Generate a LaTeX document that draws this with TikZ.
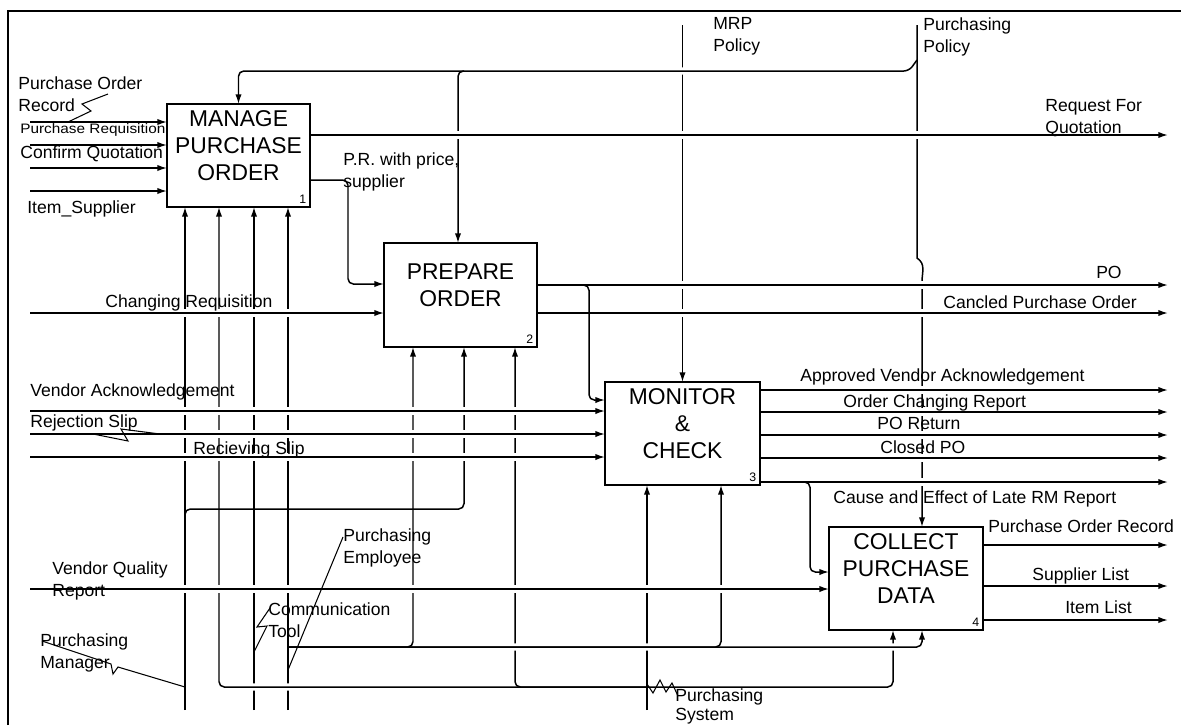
\documentclass[tikz,border=0pt]{standalone}
\usepackage{fontspec}
\setmainfont{Liberation Sans}
\usepackage{graphicx}
\usetikzlibrary{arrows.meta}

\tikzset{
  box/.style={draw, line width=1.5pt, inner sep=0pt, outer sep=0pt,
    minimum width=3.06cm, minimum height=2.06cm},
  boxtext/.style={font=\fontsize{13}{15.5}\selectfont, align=center, inner sep=0pt, yshift=5.7pt},
  num/.style={font=\fontsize{7}{8}\selectfont, inner sep=2pt, anchor=south east},
  lbl/.style={font=\fontsize{10}{12.5}\selectfont, inner sep=0pt, align=left},
  flow/.style={line width=0.85pt, -{Latex[length=5.5pt,width=3.6pt]}},
  hop/.style={preaction={draw=white, -, line width=4pt, shorten <=4pt, shorten >=4pt}},
  squig/.style={line width=0.6pt},
}

\begin{document}
\begin{tikzpicture}[x=0.02cm, y=-0.02cm]
  \useasboundingbox (0,0) rectangle (1181,725);

  % Frame
  \draw[line width=1pt] (8,725) -- (8,11) -- (1181,11);

  % Activity boxes
  \node[box, minimum width=2.86cm] (b1) at (238.5,155.5) {};
  \node[box, minimum height=2.08cm] (b2) at (460.5,295) {};
  \node[box, minimum width=3.1cm] (b3) at (682.5,433.5) {};
  \node[box, minimum width=3.08cm] (b4) at (906,578.5) {};

  % Box titles
  \node[boxtext] (t1) at (b1) {MANAGE\\PURCHASE\\ORDER};
  \node[boxtext] (t2) at (b2) {PREPARE\\ORDER};
  \node[boxtext] (t3) at (b3) {MONITOR\\\&\\CHECK};
  \node[boxtext] (t4) at (b4) {COLLECT\\PURCHASE\\DATA};

  % Box numbers
  \node[num] (n1) at (b1.south east) {1};
  \node[num] (n2) at (b2.south east) {2};
  \node[num] (n3) at (b3.south east) {3};
  \node[num] (n4) at (b4.south east) {4};

  % Free ends
  \coordinate (mrp) at (682.5,25);
  \coordinate (pp) at (917,25);
  \coordinate (m1) at (185,710);
  \coordinate (m2) at (254,710);
  \coordinate (m3) at (288,710);
  \coordinate (ms) at (647,710);
  \coordinate (in1) at (30,122);
  \coordinate (in2) at (30,145);
  \coordinate (in3) at (30,168);
  \coordinate (in4) at (30,191);
  \coordinate (in5) at (30,313);
  \coordinate (in6) at (30,411);
  \coordinate (in7) at (30,434);
  \coordinate (in8) at (30,457);
  \coordinate (in9) at (30,589);
  \coordinate (out1) at (1168,135);
  \coordinate (out2) at (1168,285);
  \coordinate (out3) at (1168,313);
  \coordinate (out4) at (1168,390);
  \coordinate (out5) at (1168,412);
  \coordinate (out6) at (1168,435);
  \coordinate (out7) at (1168,458);
  \coordinate (out8) at (1168,482);
  \coordinate (out9) at (1168,545);
  \coordinate (out10) at (1168,586);
  \coordinate (out11) at (1168,620);

  % Controls
  \draw[flow] (mrp) -- (b3.north);
  \draw[flow, hop, rounded corners=3pt] (pp |- 0,60) -- (909,71) -| (b1.north);
  \draw[flow, rounded corners=3pt] (464,71) -- (458,71) -- (458,0 |- b2.north);
  \draw[flow] (pp) -- (917,258) .. controls (926,264) and (922,272) .. (922,282)
    -- (922,0 |- b4.north);

  % Mechanisms
  \draw[flow] (m1) -- (m1 |- b1.south);
  \draw[flow] (m2) -- (m2 |- b1.south);
  \draw[flow] (m3) -- (m3 |- b1.south);
  \draw[flow] (ms) -- (ms |- b3.south);

  % Purchasing System
  \draw[flow, hop, rounded corners=3pt] (ms |- 0,687) -- (219,687) -- (219,0 |- b1.south);
  \draw[flow, rounded corners=3pt] (ms |- 0,687) -- (515,687) -- (515,0 |- b2.south);
  \draw[flow, rounded corners=3pt] (ms |- 0,687) -- (893,687) -- (893,0 |- b4.south);

  % Purchasing Employee
  \draw[flow, hop, rounded corners=3pt] (m3 |- 0,647) -- (922,647) -- (922,0 |- b4.south);
  \draw[flow, rounded corners=3pt] (m3 |- 0,647) -- (413,647) -- (413,0 |- b2.south);
  \draw[flow, rounded corners=3pt] (m3 |- 0,647) -- (721,647) -- (721,0 |- b3.south);

  % Purchasing Manager
  \draw[flow, rounded corners=3pt] (m1 |- 0,515) -- (m1 |- 0,509) -- (464,509) -- (464,0 |- b2.south);

  % P.R. with price, supplier
  \draw[flow, rounded corners=3pt] (b1.east |- 0,180) -- (348,180) -- (348,284) -- (b2.west |- 0,284);

  % Inputs
  \draw[flow, hop] (in1) -- (in1 -| b1.west);
  \draw[flow, hop] (in2) -- (in2 -| b1.west);
  \draw[flow, hop] (in3) -- (in3 -| b1.west);
  \draw[flow, hop] (in4) -- (in4 -| b1.west);
  \draw[flow, hop] (in5) -- (in5 -| b2.west);
  \draw[flow, hop] (in6) -- (in6 -| b3.west);
  \draw[flow, hop] (in7) -- (in7 -| b3.west);
  \draw[flow, hop] (in8) -- (in8 -| b3.west);
  \draw[flow, hop] (in9) -- (in9 -| b4.west);

  % Outputs
  \draw[flow, hop] (b1.east |- out1) -- (out1);
  \draw[flow, hop] (b2.east |- out2) -- (out2);
  \draw[flow, hop] (b2.east |- out3) -- (out3);
  \draw[flow, hop] (b3.east |- out4) -- (out4);
  \draw[flow, hop] (b3.east |- out5) -- (out5);
  \draw[flow, hop] (b3.east |- out6) -- (out6);
  \draw[flow, hop] (b3.east |- out7) -- (out7);
  \draw[flow, hop] (b3.east |- out8) -- (out8);
  \draw[flow, hop] (b4.east |- out9) -- (out9);
  \draw[flow, hop] (b4.east |- out10) -- (out10);
  \draw[flow, hop] (b4.east |- out11) -- (out11);

  % Outputs fed back in
  \draw[flow, rounded corners=3pt] (b2.east |- out2) -- (589,285) -- (589,400) -- (b3.west |- 0,400);
  \draw[flow, rounded corners=3pt] (b3.east |- out8) -- (810,482) -- (810,572) -- (b4.west |- 0,572);

  % Left labels
  \node[lbl, anchor=north west] (lpor) at (18,76) {Purchase Order\\Record};
  \node[lbl, anchor=base west, font=\fontsize{7.8}{9}\selectfont] (lpr) at (20,133)
    {\scalebox{1.12}[1]{Purchase Requisition}};
  \node[lbl, anchor=base west] (lcq) at (20,158) {Confirm Quotation};
  \node[lbl, anchor=base west] (lis) at (27,213) {Item\_Supplier};
  \node[lbl, anchor=base west] (lcr) at (105,307) {Changing Requisition};
  \node[lbl, anchor=base west] (lva) at (30,396) {Vendor Acknowledgement};
  \node[lbl, anchor=base west] (lrj) at (30,427) {Rejection Slip};
  \node[lbl, anchor=base west] (lrv) at (193,454) {Recieving Slip};
  \node[lbl, anchor=north west] (lvq) at (52,561) {Vendor Quality\\Report};
  \node[lbl, anchor=north west] (lpm) at (40,633) {Purchasing\\Manager};
  \node[lbl, anchor=north west] (lct) at (268,602) {Communication\\Tool};
  \node[lbl, anchor=north west] (lpe) at (343,528) {Purchasing\\Employee};
  \node[lbl, anchor=north west, font=\fontsize{10}{11.3}\selectfont] (lps) at (675,688) {Purchasing\\System};

  % Top labels
  \node[lbl, anchor=north west] (lmrp) at (713,17) {MRP\\Policy};
  \node[lbl, anchor=north west] (lpp) at (923,17) {Purchasing\\Policy};
  \node[lbl, anchor=north west] (lrfq) at (1045,99) {Request For\\Quotation};
  \node[lbl, anchor=north west] (lprs) at (343,152) {P.R. with price,\\supplier};

  % Right labels
  \node[lbl, anchor=base east] (lpo) at (1122,278) {PO};
  \node[lbl, anchor=base west] (lcan) at (943,308) {Cancled Purchase Order};
  \node[lbl, anchor=base west] (lava) at (800,381) {Approved Vendor Acknowledgement};
  \node[lbl, anchor=base west] (locr) at (843,407) {Order Changing Report};
  \node[lbl, anchor=base west] (lret) at (877,429) {PO Return};
  \node[lbl, anchor=base west] (lclo) at (880,453) {Closed PO};
  \node[lbl, anchor=base west] (lcae) at (833,503) {Cause and Effect of Late RM Report};
  \node[lbl, anchor=base west] (lrec) at (988,532) {Purchase Order Record};
  \node[lbl, anchor=base west] (lsup) at (1032,580) {Supplier List};
  \node[lbl, anchor=base west] (litm) at (1065,613) {Item List};

  % Squiggles
  \draw[squig] (108,94) -- (82,104) -- (91,111) -- (68,122);
  \draw[squig] (93,434) -- (128,441) -- (121,429) -- (160,434);
  \draw[squig] (42,641) -- (111,664) -- (113,674) -- (118,667) -- (m1 |- 0,687);
  \draw[squig] (270,608) -- (257,627) -- (267,626) -- (m2 |- 0,652);
  \draw[squig] (343,537) -- (m3 |- 0,670);
  \draw[squig] (647,684) -- (653,693) -- (660,680) -- (666,692) -- (672,683) -- (678,696);
\end{tikzpicture}
\end{document}
